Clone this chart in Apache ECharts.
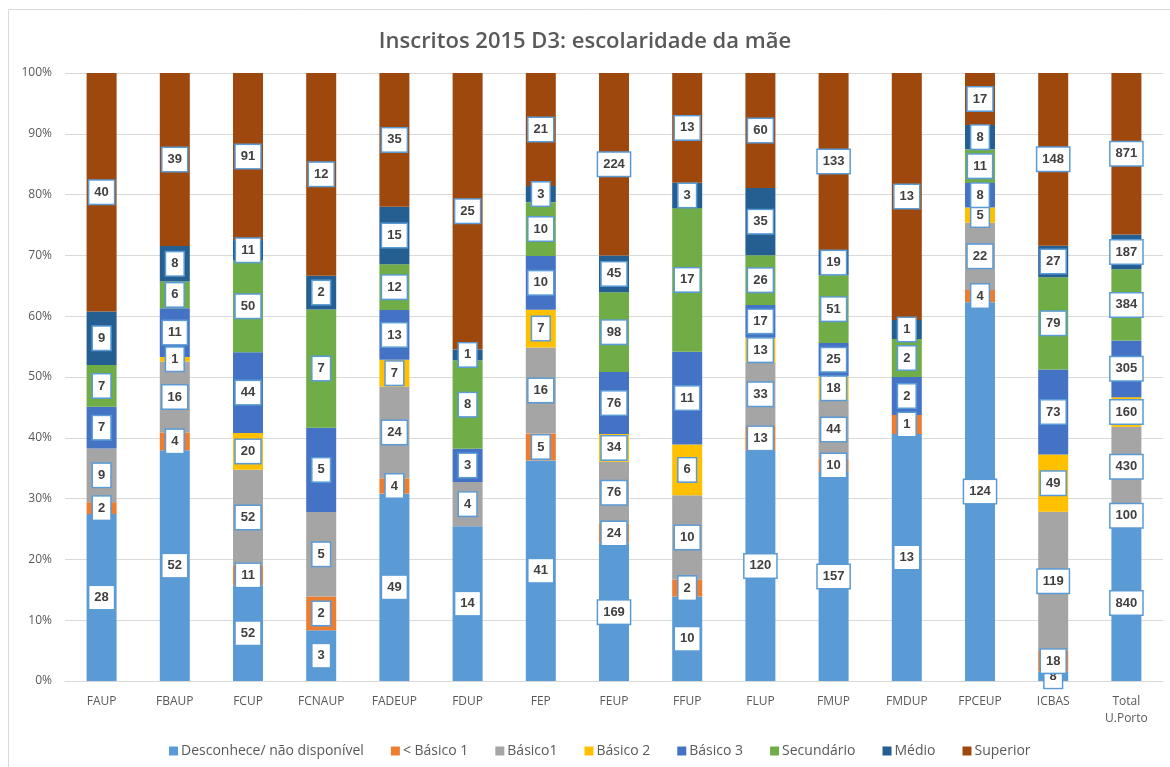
<!DOCTYPE html>
<html>
<head>
<meta charset="utf-8">
<title>Inscritos 2015 D3: escolaridade da mãe</title>
<script src="https://cdn.jsdelivr.net/npm/echarts@6/dist/echarts.min.js"></script>
<style>
  html, body { margin: 0; padding: 0; background: #ffffff; }
  #chart { width: 1170px; height: 767px; }
</style>
</head>
<body>
<div id="chart"></div>
<script>
// Faculties of U.Porto plus the university total
const categories = ['FAUP', 'FBAUP', 'FCUP', 'FCNAUP', 'FADEUP', 'FDUP', 'FEP', 'FEUP',
  'FFUP', 'FLUP', 'FMUP', 'FMDUP', 'FPCEUP', 'ICBAS', 'Total\nU.Porto'];

// Number of enrolled students by mother's schooling level
const desconhece = [28, 52, 52, 3, 49, 14, 41, 169, 10, 120, 157, 13, 124, 8, 840];
const menosBasico1 = [2, 4, 11, 2, 4, 0, 5, 24, 2, 13, 10, 1, 4, 18, 100];
const basico1 = [9, 16, 52, 5, 24, 4, 16, 76, 10, 33, 44, 0, 22, 119, 430];
const basico2 = [0, 1, 20, 0, 7, 0, 7, 34, 6, 13, 18, 0, 5, 49, 160];
const basico3 = [7, 11, 44, 5, 13, 3, 10, 76, 11, 17, 25, 2, 8, 73, 305];
const secundario = [7, 6, 50, 7, 12, 8, 10, 98, 17, 26, 51, 2, 11, 79, 384];
const medio = [9, 8, 11, 2, 15, 1, 3, 45, 3, 35, 19, 1, 8, 27, 187];
const superior = [40, 39, 91, 12, 35, 25, 21, 224, 13, 60, 133, 13, 17, 148, 871];

const yTicks = [0, 10, 20, 30, 40, 50, 60, 70, 80, 90, 100];

const seriesDefs = [
  { name: 'Desconhece/ não disponível', values: desconhece, color: '#5B9BD5' },
  { name: '< Básico 1', values: menosBasico1, color: '#ED7D31' },
  { name: 'Básico1', values: basico1, color: '#A5A5A5' },
  { name: 'Básico 2', values: basico2, color: '#FFC000' },
  { name: 'Básico 3', values: basico3, color: '#4472C4' },
  { name: 'Secundário', values: secundario, color: '#70AD47' },
  { name: 'Médio', values: medio, color: '#255E91' },
  { name: 'Superior', values: superior, color: '#9E480E' }
];

// Column totals, used to turn counts into shares of 100%
const totals = categories.map((_, i) =>
  seriesDefs.reduce((s, d) => s + d.values[i], 0));

const FONT = '"Open Sans", "Noto Sans", sans-serif';

const series = seriesDefs.map(d => ({
  name: d.name,
  type: 'bar',
  stack: 'share',
  barWidth: 30,
  itemStyle: { color: d.color },
  data: d.values.map((v, i) => ({
    value: v === 0 ? '-' : v / totals[i] * 100,
    count: v
  })),
  label: {
    show: true,
    position: 'inside',
    formatter: p => (p.data && p.data.count) ? String(p.data.count) : '',
    fontFamily: '"Liberation Sans", Arial, sans-serif',
    fontWeight: 'bold',
    fontSize: 13,
    color: '#404040',
    backgroundColor: '#ffffff',
    borderColor: '#5B9BD5',
    borderWidth: 1.5,
    padding: [5, 5, 4, 5],
    lineHeight: 14
  },
  emphasis: { disabled: true }
}));

const chart = echarts.init(document.getElementById('chart'), null, { renderer: 'canvas' });

chart.setOption({
  animation: false,
  backgroundColor: '#ffffff',
  graphic: [{
    type: 'rect',
    shape: { x: 8.5, y: 9.5, width: 1200, height: 800 },
    style: { fill: 'none', stroke: '#d9d9d9', lineWidth: 1 },
    silent: true,
    z: -10
  }],
  title: {
    text: 'Inscritos 2015 D3: escolaridade da mãe',
    left: 'center',
    top: 26,
    textStyle: {
      fontFamily: FONT,
      fontSize: 22,
      fontWeight: 600,
      color: '#595959'
    }
  },
  legend: {
    bottom: 4,
    left: 164,
    itemWidth: 9,
    itemHeight: 9,
    itemGap: 27,
    icon: 'rect',
    textStyle: { fontFamily: FONT, fontSize: 14, color: '#595959', padding: [0, 0, 0, -2] },
    data: seriesDefs.map(d => d.name)
  },
  grid: { left: 65, right: 7, top: 73, bottom: 86 },
  xAxis: {
    type: 'category',
    data: categories,
    axisLine: { lineStyle: { color: '#d9d9d9', width: 1 } },
    axisTick: { show: false },
    axisLabel: {
      fontFamily: FONT,
      fontSize: 12,
      color: '#595959',
      margin: 12,
      lineHeight: 17,
      interval: 0
    }
  },
  yAxis: {
    type: 'value',
    min: yTicks[0],
    max: yTicks[yTicks.length - 1],
    interval: yTicks[1] - yTicks[0],
    axisLine: { show: false },
    axisTick: { show: false },
    splitLine: { lineStyle: { color: '#d9d9d9', width: 1 } },
    axisLabel: {
      fontFamily: FONT,
      fontSize: 12,
      color: '#595959',
      margin: 13,
      formatter: '{value}%'
    }
  },
  series: series
});
</script>
</body>
</html>
